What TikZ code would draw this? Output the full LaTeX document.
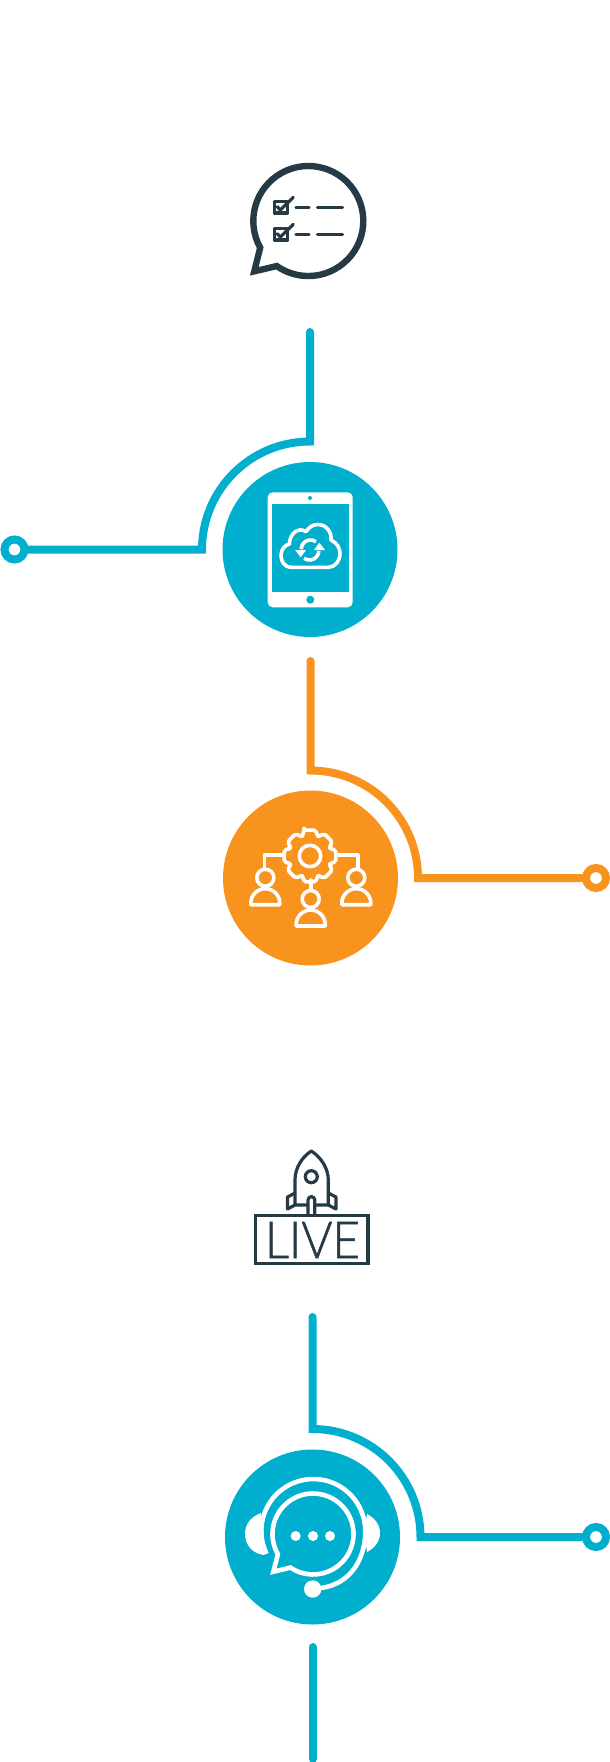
\documentclass[tikz,border=0pt]{standalone}
\usepackage{fontspec}
\newfontfamily\livefont[FakeBold=1]{Lato Light}
\definecolor{wireblue}{HTML}{00AFCE}
\definecolor{wireorange}{HTML}{F8931E}
\definecolor{icondark}{HTML}{263A46}

\begin{document}
\begin{tikzpicture}[x=1pt, y=1pt, yscale=-1]
	\tikzstyle{disk} = [circle, minimum size=175pt, inner sep=0pt]
	\tikzstyle{ring} = [circle, draw, line width=8pt, minimum size=20pt, inner sep=0pt, fill=white]
	\tikzstyle{wire} = [line width=8pt, line cap=round]
	\tikzstyle{darkline} = [draw=icondark, line width=3.2pt, line cap=round, line join=round]
	\tikzstyle{whiteline} = [draw=white, line width=3.6pt, line cap=round, line join=round]
	\useasboundingbox (0,0) rectangle (610,1762);

	% discs and end rings
	\node[disk, fill=wireblue] (tablet) at (310,549.5) {};
	\node[disk, fill=wireorange] (team) at (310.5,878) {};
	\node[disk, fill=wireblue] (support) at (312.5,1537) {};
	\node[ring, draw=wireblue] (tabletring) at (14.5,549.5) {};
	\node[ring, draw=wireorange] (teamring) at (596,878) {};
	\node[ring, draw=wireblue] (supportring) at (596,1537) {};

	% connectors
	\coordinate (tablettop) at (310,332);
	\coordinate (tabletbend) at (310,441.5);
	\coordinate (teamtop) at (310.5,661);
	\coordinate (teambend) at (310.5,770.5);
	\coordinate (supporttop) at (312.5,1317);
	\coordinate (supportbend) at (312.5,1429);
	\coordinate (supportlow) at (312.5,1647);
	\coordinate (supportend) at (312.5,1759);
	\draw[wire, draw=wireblue] (tablettop) -- (tabletbend) arc[start angle=270, end angle=180, radius=108] -- (tabletring);
	\draw[wire, draw=wireorange] (teamtop) -- (teambend) arc[start angle=270, end angle=360, radius=107.5] -- (teamring);
	\draw[wire, draw=wireblue] (supporttop) -- (supportbend) arc[start angle=270, end angle=360, radius=108] -- (supportring);
	\draw[wire, draw=wireblue] (supportlow) -- (supportend);

	% checklist bubble
	\draw[draw=icondark, line width=6.4pt, miter limit=6] (308.3,221) ++(151:55) arc[start angle=151, end angle=485, radius=55] -- (254.3,271.3) -- cycle;
	\foreach \dy in {0,27}
	{
		\draw[darkline] (274.2,201.5+\dy) rectangle (287.5,213+\dy);
		\draw[darkline] (277.3,206.7+\dy) -- (280.3,210+\dy) -- (293.3,197.3+\dy);
		\draw[darkline] (296,207.3+\dy) -- (309,207.3+\dy);
		\draw[darkline] (317.5,207.3+\dy) -- (342.5,207.3+\dy);
	}

	% tablet
	\fill[white, rounded corners=5pt] (267.7,492.3) rectangle (352.7,607.3);
	\fill[wireblue] (272,503.7) rectangle (348.7,592);
	\fill[wireblue] (310,498) circle (2);
	\fill[wireblue] (310.3,599.7) circle (4);
	\draw[whiteline] (291.7,567.3) .. controls (284,567.3) and (281,561) .. (281,555.5) .. controls (281,549) and (285,545) .. (289.5,544) .. controls (289,535) and (298,526) .. (306,531.7) .. controls (309,527) and (313,524.5) .. (318,524.5) .. controls (326,524.5) and (332,532) .. (331,540) .. controls (337,543) and (340,548) .. (340,553.5) .. controls (340,561) and (335,567.3) .. (328.3,567.3) -- cycle;
	\draw[whiteline, line cap=butt] (316,541.7) arc[start angle=-54, end angle=-180, radius=9.3];
	\draw[whiteline, line cap=butt] (304,558.3) arc[start angle=126, end angle=0, radius=9.3];
	\fill[white] (295,550) -- (306,550) -- (300.7,557.3) -- cycle;
	\fill[white] (325,550) -- (314,550) -- (319.3,542.7) -- cycle;

	% gear and people
	\begin{scope}[shift={(310,856)}]
		\draw[whiteline, rounded corners=2pt] (-103:26.5) foreach \a in {0,45,...,315} { -- (\a-103:26.5) -- (\a-77:26.5) -- (\a-70:21.5) -- (\a-65:21.5) } -- cycle;
		\draw[whiteline] (0,0) circle (10.7);
	\end{scope}
	\draw[whiteline] (283.3,855) -- (264.3,855) -- (264.3,868);
	\draw[whiteline] (338.3,855) -- (357.7,855) -- (357.7,868);
	\draw[whiteline] (310.7,880) -- (310.7,890);
	\foreach \hx/\hy in {265.3/877.7, 310.7/899, 356.3/877.7}
	{
		\draw[whiteline] (\hx,\hy) circle (8.5);
		\draw[whiteline] (\hx-14.5,\hy+27) -- (\hx-14.5,\hy+25.5) arc[start angle=180, end angle=360, radius=14.5] -- (\hx+14.5,\hy+27) -- cycle;
	}

	% rocket and live sign
	\draw[darkline] (295,1204) -- (295,1180) .. controls (295,1168) and (302,1157) .. (311.3,1151) .. controls (320.6,1157) and (328.3,1168) .. (328.3,1180) -- (328.3,1204);
	\draw[darkline] (311.3,1176.7) circle (6);
	\draw[darkline] (295,1193) -- (287.5,1197) -- (287.5,1209) -- (295,1205) -- (307,1205);
	\draw[darkline] (328.3,1193) -- (336,1197) -- (336,1209) -- (328.3,1205) -- (316,1205);
	\draw[darkline] (308,1214) -- (308,1200) arc[start angle=180, end angle=360, radius=3.4] -- (314.8,1214);
	\draw[darkline, line join=miter] (255.7,1215.7) rectangle (368,1263.7);
	\node[text=icondark, inner sep=0pt] (livelabel) at (312.5,1240) {\scalebox{0.93}[1]{\livefont\fontsize{51}{51}\selectfont LIVE}};

	% headset and chat bubble
	\draw[draw=white, line width=4.6pt] (313,1534) ++(150:40.5) arc[start angle=150, end angle=484, radius=40.5] -- (273.3,1571.7) -- cycle;
	\foreach \dx in {295.7,313,330}
	{
		\fill[white] (\dx,1536) circle (5);
	}
	\draw[draw=white, line width=4.6pt] (313.3,1531) ++(154:52) arc[start angle=154, end angle=360, radius=52] .. controls (365.3,1560) and (350,1584) .. (321,1588);
	\fill[white] (261,1513) .. controls (250,1517) and (245,1525) .. (245,1534) .. controls (245,1546) and (254,1554) .. (264,1555) .. controls (264,1540) and (264,1527) .. (261,1513) -- cycle;
	\fill[white] (367,1514) .. controls (375,1518) and (380,1525) .. (380,1533) .. controls (380,1541) and (375,1548) .. (367,1552) -- (364,1533) -- cycle;
	\fill[white] (312.7,1589) circle (8.7);
\end{tikzpicture}
\end{document}
